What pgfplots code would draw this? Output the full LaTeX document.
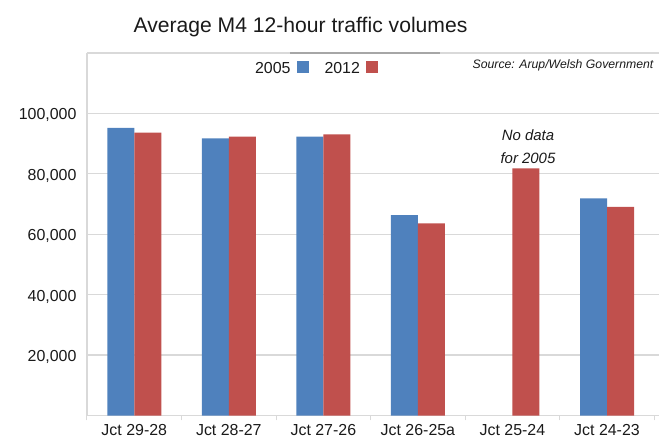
\documentclass[border=0pt]{standalone}
\usepackage{fontspec}
\setmainfont{Liberation Sans}
\usepackage{pgfplots}
\pgfplotsset{compat=1.18}
\definecolor{cblue}{HTML}{4F81BD}
\definecolor{cred}{HTML}{C0504D}
\definecolor{gridc}{HTML}{D9D9D9}
\definecolor{txt}{HTML}{1A1A1A}
\begin{document}
\begin{tikzpicture}
\path[use as bounding box] (0,0) rectangle (660bp,447bp);
\begin{axis}[
  at={(87bp,31.5bp)}, anchor=south west,
  scale only axis, width=572bp, height=362.5bp,
  xmin=-0.5, xmax=5.55, ymin=0, ymax=120000,
  ybar=0pt, bar width=27bp,
  axis lines*=left,
  axis line style={draw=gridc, line width=1.2bp},
  xtick={0,1,2,3,4,5},
  xticklabels={Jct 29-28, Jct 28-27, Jct 27-26, Jct 26-25a, Jct 25-24, Jct 24-23},
  minor xtick={-0.5,0.5,1.5,2.5,3.5,4.5,5.5},
  ytick={20000,40000,60000,80000,100000,120000},
  yticklabels={{20,000},{40,000},{60,000},{80,000},{100,000},{}},
  scaled y ticks=false,
  /pgf/number format/assume math mode=true,
  tick align=outside,
  major tick length=0pt,
  minor tick length=5bp,
  minor x tick style={draw=gridc, line width=1bp},
  ymajorgrids,
  major grid style={draw=gridc, line width=1.2bp},
  ticklabel style={font=\fontsize{16}{19}\selectfont, text=txt},
  yticklabel style={xshift=-7bp, yshift=-2bp},
  xticklabel style={yshift=-5.5bp},
  legend columns=2,
  legend plot pos=right,
  legend style={draw=none, fill=none, at={(0.3995,0.958)}, anchor=center,
    font=\fontsize{16}{19}\selectfont, text=txt,
    /tikz/column 2/.style={column sep=14bp}},
  clip=false,
]
\addplot[fill=cblue, draw=none,
  legend image code/.code={\path (0bp,0bp); \fill[cblue] (4bp,-5bp) rectangle (16bp,7.6bp);}]
  coordinates {(0,95200) (1,91750) (2,92300) (3,66300) (5,71900)};
\addlegendentry{2005}
\addplot[fill=cred, draw=none,
  legend image code/.code={\path (0bp,0bp); \fill[cred] (4bp,-5bp) rectangle (16bp,7.6bp);}]
  coordinates {(0,93600) (1,92300) (2,93100) (3,63600) (4,81800) (5,69100)};
\addlegendentry{2012}
\draw[draw=black!35, line width=1.5bp] (axis cs:1.647,120000) -- (axis cs:3.233,120000);
\node[align=center, font=\fontsize{15}{23}\selectfont\itshape, text=txt] at (axis cs:4.164,88900) {No data\\for 2005};
\end{axis}
\node[font=\fontsize{21.2}{25}\selectfont, text=txt] at (300.5bp,420.3bp) {Average M4 12-hour traffic volumes};
\node[font=\fontsize{12.3}{14}\selectfont\itshape, text=txt] at (563bp,382bp) {Source: Arup/Welsh Government};
\end{tikzpicture}
\end{document}
